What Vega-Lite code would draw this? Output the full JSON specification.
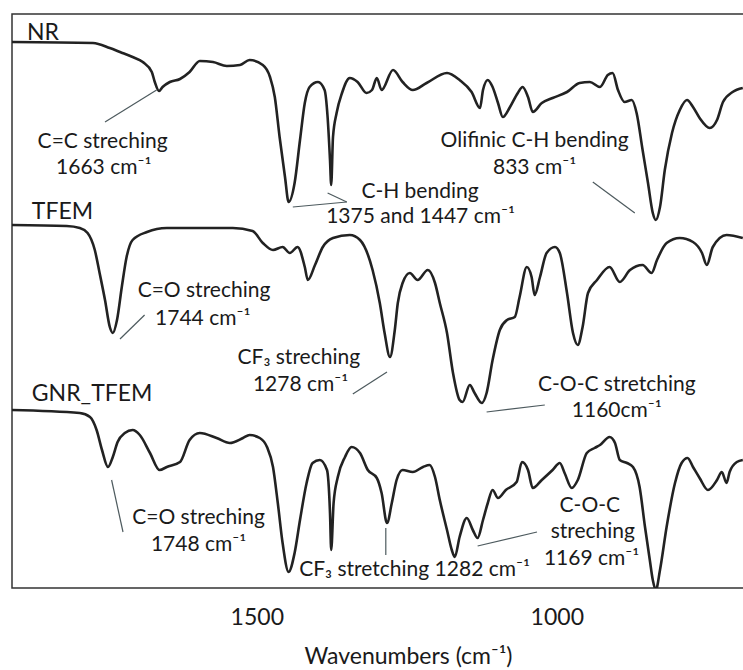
{
  "$schema": "https://vega.github.io/schema/vega-lite/v6.json",
  "width": 735,
  "height": 574,
  "autosize": {"type": "none"},
  "padding": {"left": 12, "top": 14, "right": 0, "bottom": 82},
  "background": "white",
  "config": {
    "view": {"stroke": "#333333", "strokeWidth": 1.5},
    "font": "Lato"
  },
  "datasets": {
    "spectra": [
      {"series":"NR","w":1908,"v":546},{"series":"NR","w":1773,"v":545},{"series":"NR","w":1745,"v":540},{"series":"NR","w":1728,"v":536},{"series":"NR","w":1707,"v":531},{"series":"NR","w":1690,"v":526},{"series":"NR","w":1675,"v":516},{"series":"NR","w":1670,"v":506},{"series":"NR","w":1663,"v":497},{"series":"NR","w":1657,"v":501},{"series":"NR","w":1645,"v":506},{"series":"NR","w":1628,"v":509},{"series":"NR","w":1612,"v":516},{"series":"NR","w":1595,"v":527},{"series":"NR","w":1573,"v":526},{"series":"NR","w":1550,"v":522},{"series":"NR","w":1528,"v":523},{"series":"NR","w":1512,"v":528},{"series":"NR","w":1490,"v":523},{"series":"NR","w":1478,"v":511},{"series":"NR","w":1470,"v":491},{"series":"NR","w":1462,"v":451},{"series":"NR","w":1453,"v":411},{"series":"NR","w":1447,"v":386},{"series":"NR","w":1437,"v":405},{"series":"NR","w":1428,"v":448},{"series":"NR","w":1420,"v":485},{"series":"NR","w":1412,"v":501},{"series":"NR","w":1398,"v":506},{"series":"NR","w":1387,"v":498},{"series":"NR","w":1382,"v":471},{"series":"NR","w":1378,"v":428},{"series":"NR","w":1376,"v":403},{"series":"NR","w":1373,"v":451},{"series":"NR","w":1367,"v":475},{"series":"NR","w":1358,"v":495},{"series":"NR","w":1345,"v":510},{"series":"NR","w":1332,"v":506},{"series":"NR","w":1317,"v":495},{"series":"NR","w":1308,"v":498},{"series":"NR","w":1300,"v":510},{"series":"NR","w":1292,"v":498},{"series":"NR","w":1273,"v":518},{"series":"NR","w":1257,"v":506},{"series":"NR","w":1240,"v":498},{"series":"NR","w":1217,"v":505},{"series":"NR","w":1183,"v":515},{"series":"NR","w":1162,"v":508},{"series":"NR","w":1142,"v":496},{"series":"NR","w":1128,"v":480},{"series":"NR","w":1123,"v":498},{"series":"NR","w":1115,"v":508},{"series":"NR","w":1107,"v":501},{"series":"NR","w":1098,"v":485},{"series":"NR","w":1090,"v":471},{"series":"NR","w":1078,"v":481},{"series":"NR","w":1065,"v":495},{"series":"NR","w":1057,"v":501},{"series":"NR","w":1048,"v":491},{"series":"NR","w":1040,"v":476},{"series":"NR","w":1025,"v":485},{"series":"NR","w":1007,"v":490},{"series":"NR","w":983,"v":496},{"series":"NR","w":962,"v":505},{"series":"NR","w":945,"v":506},{"series":"NR","w":928,"v":501},{"series":"NR","w":915,"v":513},{"series":"NR","w":907,"v":515},{"series":"NR","w":898,"v":498},{"series":"NR","w":887,"v":486},{"series":"NR","w":875,"v":488},{"series":"NR","w":867,"v":475},{"series":"NR","w":857,"v":438},{"series":"NR","w":848,"v":405},{"series":"NR","w":840,"v":375},{"series":"NR","w":835,"v":368},{"series":"NR","w":828,"v":381},{"series":"NR","w":820,"v":418},{"series":"NR","w":808,"v":455},{"series":"NR","w":795,"v":478},{"series":"NR","w":783,"v":488},{"series":"NR","w":773,"v":481},{"series":"NR","w":762,"v":470},{"series":"NR","w":745,"v":460},{"series":"NR","w":733,"v":468},{"series":"NR","w":723,"v":486},{"series":"NR","w":707,"v":496},{"series":"NR","w":690,"v":500},
      {"series":"TFEM","w":1908,"v":363},{"series":"TFEM","w":1817,"v":362},{"series":"TFEM","w":1795,"v":360},{"series":"TFEM","w":1782,"v":355},{"series":"TFEM","w":1770,"v":338},{"series":"TFEM","w":1762,"v":315},{"series":"TFEM","w":1753,"v":288},{"series":"TFEM","w":1745,"v":261},{"series":"TFEM","w":1740,"v":255},{"series":"TFEM","w":1733,"v":268},{"series":"TFEM","w":1725,"v":301},{"series":"TFEM","w":1717,"v":331},{"series":"TFEM","w":1707,"v":348},{"series":"TFEM","w":1683,"v":356},{"series":"TFEM","w":1650,"v":360},{"series":"TFEM","w":1540,"v":360},{"series":"TFEM","w":1507,"v":357},{"series":"TFEM","w":1490,"v":345},{"series":"TFEM","w":1473,"v":338},{"series":"TFEM","w":1457,"v":341},{"series":"TFEM","w":1445,"v":335},{"series":"TFEM","w":1432,"v":341},{"series":"TFEM","w":1420,"v":321},{"series":"TFEM","w":1415,"v":308},{"series":"TFEM","w":1403,"v":323},{"series":"TFEM","w":1390,"v":341},{"series":"TFEM","w":1373,"v":350},{"series":"TFEM","w":1345,"v":353},{"series":"TFEM","w":1328,"v":348},{"series":"TFEM","w":1307,"v":318},{"series":"TFEM","w":1295,"v":285},{"series":"TFEM","w":1287,"v":255},{"series":"TFEM","w":1278,"v":231},{"series":"TFEM","w":1270,"v":258},{"series":"TFEM","w":1265,"v":285},{"series":"TFEM","w":1257,"v":305},{"series":"TFEM","w":1245,"v":315},{"series":"TFEM","w":1232,"v":308},{"series":"TFEM","w":1215,"v":318},{"series":"TFEM","w":1203,"v":305},{"series":"TFEM","w":1195,"v":285},{"series":"TFEM","w":1183,"v":255},{"series":"TFEM","w":1173,"v":215},{"series":"TFEM","w":1162,"v":188},{"series":"TFEM","w":1157,"v":186},{"series":"TFEM","w":1145,"v":203},{"series":"TFEM","w":1137,"v":195},{"series":"TFEM","w":1125,"v":185},{"series":"TFEM","w":1117,"v":195},{"series":"TFEM","w":1107,"v":228},{"series":"TFEM","w":1095,"v":258},{"series":"TFEM","w":1083,"v":268},{"series":"TFEM","w":1070,"v":271},{"series":"TFEM","w":1062,"v":291},{"series":"TFEM","w":1050,"v":321},{"series":"TFEM","w":1042,"v":311},{"series":"TFEM","w":1037,"v":293},{"series":"TFEM","w":1028,"v":311},{"series":"TFEM","w":1017,"v":335},{"series":"TFEM","w":1003,"v":341},{"series":"TFEM","w":995,"v":335},{"series":"TFEM","w":983,"v":295},{"series":"TFEM","w":973,"v":255},{"series":"TFEM","w":965,"v":243},{"series":"TFEM","w":957,"v":261},{"series":"TFEM","w":948,"v":295},{"series":"TFEM","w":933,"v":308},{"series":"TFEM","w":912,"v":321},{"series":"TFEM","w":895,"v":306},{"series":"TFEM","w":878,"v":318},{"series":"TFEM","w":857,"v":323},{"series":"TFEM","w":842,"v":315},{"series":"TFEM","w":833,"v":328},{"series":"TFEM","w":817,"v":345},{"series":"TFEM","w":795,"v":350},{"series":"TFEM","w":773,"v":346},{"series":"TFEM","w":758,"v":335},{"series":"TFEM","w":750,"v":323},{"series":"TFEM","w":740,"v":341},{"series":"TFEM","w":717,"v":353},{"series":"TFEM","w":690,"v":350},
      {"series":"GNR_TFEM","w":1908,"v":178},{"series":"GNR_TFEM","w":1795,"v":175},{"series":"GNR_TFEM","w":1778,"v":171},{"series":"GNR_TFEM","w":1767,"v":158},{"series":"GNR_TFEM","w":1758,"v":138},{"series":"GNR_TFEM","w":1748,"v":121},{"series":"GNR_TFEM","w":1740,"v":131},{"series":"GNR_TFEM","w":1732,"v":146},{"series":"GNR_TFEM","w":1720,"v":155},{"series":"GNR_TFEM","w":1707,"v":158},{"series":"GNR_TFEM","w":1695,"v":153},{"series":"GNR_TFEM","w":1678,"v":135},{"series":"GNR_TFEM","w":1662,"v":118},{"series":"GNR_TFEM","w":1650,"v":121},{"series":"GNR_TFEM","w":1628,"v":126},{"series":"GNR_TFEM","w":1612,"v":148},{"series":"GNR_TFEM","w":1595,"v":155},{"series":"GNR_TFEM","w":1567,"v":150},{"series":"GNR_TFEM","w":1545,"v":145},{"series":"GNR_TFEM","w":1523,"v":150},{"series":"GNR_TFEM","w":1512,"v":153},{"series":"GNR_TFEM","w":1495,"v":150},{"series":"GNR_TFEM","w":1483,"v":141},{"series":"GNR_TFEM","w":1473,"v":121},{"series":"GNR_TFEM","w":1465,"v":85},{"series":"GNR_TFEM","w":1457,"v":45},{"series":"GNR_TFEM","w":1447,"v":16},{"series":"GNR_TFEM","w":1437,"v":35},{"series":"GNR_TFEM","w":1428,"v":68},{"series":"GNR_TFEM","w":1417,"v":105},{"series":"GNR_TFEM","w":1407,"v":125},{"series":"GNR_TFEM","w":1395,"v":128},{"series":"GNR_TFEM","w":1383,"v":118},{"series":"GNR_TFEM","w":1378,"v":75},{"series":"GNR_TFEM","w":1376,"v":38},{"series":"GNR_TFEM","w":1372,"v":85},{"series":"GNR_TFEM","w":1365,"v":111},{"series":"GNR_TFEM","w":1353,"v":131},{"series":"GNR_TFEM","w":1342,"v":141},{"series":"GNR_TFEM","w":1328,"v":135},{"series":"GNR_TFEM","w":1315,"v":118},{"series":"GNR_TFEM","w":1300,"v":110},{"series":"GNR_TFEM","w":1292,"v":95},{"series":"GNR_TFEM","w":1283,"v":65},{"series":"GNR_TFEM","w":1275,"v":85},{"series":"GNR_TFEM","w":1267,"v":108},{"series":"GNR_TFEM","w":1257,"v":118},{"series":"GNR_TFEM","w":1240,"v":116},{"series":"GNR_TFEM","w":1223,"v":121},{"series":"GNR_TFEM","w":1212,"v":123},{"series":"GNR_TFEM","w":1203,"v":111},{"series":"GNR_TFEM","w":1195,"v":88},{"series":"GNR_TFEM","w":1183,"v":58},{"series":"GNR_TFEM","w":1175,"v":38},{"series":"GNR_TFEM","w":1170,"v":31},{"series":"GNR_TFEM","w":1162,"v":51},{"series":"GNR_TFEM","w":1150,"v":70},{"series":"GNR_TFEM","w":1140,"v":58},{"series":"GNR_TFEM","w":1132,"v":50},{"series":"GNR_TFEM","w":1123,"v":68},{"series":"GNR_TFEM","w":1115,"v":85},{"series":"GNR_TFEM","w":1107,"v":98},{"series":"GNR_TFEM","w":1098,"v":90},{"series":"GNR_TFEM","w":1085,"v":98},{"series":"GNR_TFEM","w":1067,"v":106},{"series":"GNR_TFEM","w":1058,"v":126},{"series":"GNR_TFEM","w":1048,"v":118},{"series":"GNR_TFEM","w":1040,"v":100},{"series":"GNR_TFEM","w":1025,"v":108},{"series":"GNR_TFEM","w":1007,"v":118},{"series":"GNR_TFEM","w":995,"v":125},{"series":"GNR_TFEM","w":987,"v":115},{"series":"GNR_TFEM","w":975,"v":100},{"series":"GNR_TFEM","w":965,"v":108},{"series":"GNR_TFEM","w":950,"v":135},{"series":"GNR_TFEM","w":937,"v":140},{"series":"GNR_TFEM","w":928,"v":143},{"series":"GNR_TFEM","w":912,"v":151},{"series":"GNR_TFEM","w":903,"v":145},{"series":"GNR_TFEM","w":895,"v":128},{"series":"GNR_TFEM","w":883,"v":125},{"series":"GNR_TFEM","w":873,"v":121},{"series":"GNR_TFEM","w":862,"v":101},{"series":"GNR_TFEM","w":853,"v":61},{"series":"GNR_TFEM","w":845,"v":28},{"series":"GNR_TFEM","w":840,"v":8},{"series":"GNR_TFEM","w":835,"v":-2},{"series":"GNR_TFEM","w":828,"v":18},{"series":"GNR_TFEM","w":817,"v":61},{"series":"GNR_TFEM","w":803,"v":105},{"series":"GNR_TFEM","w":792,"v":125},{"series":"GNR_TFEM","w":782,"v":130},{"series":"GNR_TFEM","w":773,"v":121},{"series":"GNR_TFEM","w":762,"v":110},{"series":"GNR_TFEM","w":748,"v":98},{"series":"GNR_TFEM","w":733,"v":108},{"series":"GNR_TFEM","w":725,"v":116},{"series":"GNR_TFEM","w":717,"v":105},{"series":"GNR_TFEM","w":712,"v":116},{"series":"GNR_TFEM","w":700,"v":126},{"series":"GNR_TFEM","w":690,"v":128}
    ],
    "names": [
      {"label":"NR","w":1883,"v":555},
      {"label":"TFEM","w":1875,"v":376},
      {"label":"GNR_TFEM","w":1875,"v":194}
    ],
    "notes": [
      {"label":"C=C streching","w":1757,"v":446},
      {"label":"1663 cm⁻¹","w":1755,"v":420},
      {"label":"C-H bending","w":1228,"v":396},
      {"label":"1375 and 1447 cm⁻¹","w":1227,"v":371},
      {"label":"Olifinic C-H bending","w":1037,"v":447},
      {"label":"833 cm⁻¹","w":1037,"v":420},
      {"label":"C=O streching","w":1588,"v":297},
      {"label":"1744 cm⁻¹","w":1590,"v":269},
      {"label":"CF₃ streching","w":1430,"v":230},
      {"label":"1278 cm⁻¹","w":1427,"v":203},
      {"label":"C-O-C  stretching","w":900,"v":203},
      {"label":"1160cm⁻¹","w":900,"v":177},
      {"label":"C=O streching","w":1597,"v":70},
      {"label":"1748 cm⁻¹","w":1597,"v":43},
      {"label":"CF₃ stretching 1282 cm⁻¹","w":1237,"v":18},
      {"label":"C-O-C","w":945,"v":82},
      {"label":"streching","w":940,"v":56},
      {"label":"1169 cm⁻¹","w":942,"v":29}
    ],
    "leaders": [
      {"w":1753,"v":466,"w2":1667,"v2":498},
      {"w":1440,"v":381,"w2":1350,"v2":386},
      {"w":1382,"v":395,"w2":1350,"v2":386},
      {"w":940,"v":406,"w2":870,"v2":375},
      {"w":1728,"v":249,"w2":1687,"v2":273},
      {"w":1340,"v":194,"w2":1283,"v2":216},
      {"w":1117,"v":176,"w2":1020,"v2":183},
      {"w":1742,"v":108,"w2":1723,"v2":56},
      {"w":1285,"v":60,"w2":1285,"v2":33},
      {"w":1132,"v":42,"w2":1033,"v2":56}
    ]
  },
  "layer": [
    {
      "data": {"name": "spectra"},
      "mark": {"type": "line", "stroke": "#222222", "strokeWidth": 2.6, "clip": true, "strokeJoin": "round", "interpolate": "monotone"},
      "encoding": {
        "x": {
          "field": "w", "type": "quantitative",
          "scale": {"domain": [683, 1908], "reverse": true, "nice": false, "zero": false},
          "axis": {
            "values": [1500, 1000],
            "format": "d",
            "ticks": false, "domain": false, "grid": false,
            "labelFont": "Lato", "labelFontSize": 23, "labelColor": "#1a1a1a",
            "labelPadding": 18,
            "title": "Wavenumbers (cm⁻¹)",
            "titleFont": "Lato", "titleFontSize": 23, "titleFontWeight": "normal", "titleColor": "#1a1a1a",
            "titleX": 396,
            "titleY": 68,
            "titleAnchor": "start",
            "titleAlign": "center",
            "titleBaseline": "middle"
          }
        },
        "y": {
          "field": "v", "type": "quantitative",
          "scale": {"domain": [0, 574], "nice": false, "zero": false},
          "axis": null
        },
        "detail": {"field": "series"}
      }
    },
    {
      "data": {"name": "leaders"},
      "mark": {"type": "rule", "stroke": "#4d5a5e", "strokeWidth": 1.2},
      "encoding": {
        "x": {"field": "w", "type": "quantitative"},
        "y": {"field": "v", "type": "quantitative"},
        "x2": {"field": "w2"},
        "y2": {"field": "v2"}
      }
    },
    {
      "data": {"name": "names"},
      "mark": {"type": "text", "align": "left", "baseline": "middle", "font": "Lato", "fontSize": 23, "color": "#1a1a1a"},
      "encoding": {
        "x": {"field": "w", "type": "quantitative"},
        "y": {"field": "v", "type": "quantitative"},
        "text": {"field": "label"}
      }
    },
    {
      "data": {"name": "notes"},
      "mark": {"type": "text", "align": "center", "baseline": "middle", "font": "Lato", "fontSize": 21, "color": "#1a1a1a"},
      "encoding": {
        "x": {"field": "w", "type": "quantitative"},
        "y": {"field": "v", "type": "quantitative"},
        "text": {"field": "label"}
      }
    }
  ]
}
